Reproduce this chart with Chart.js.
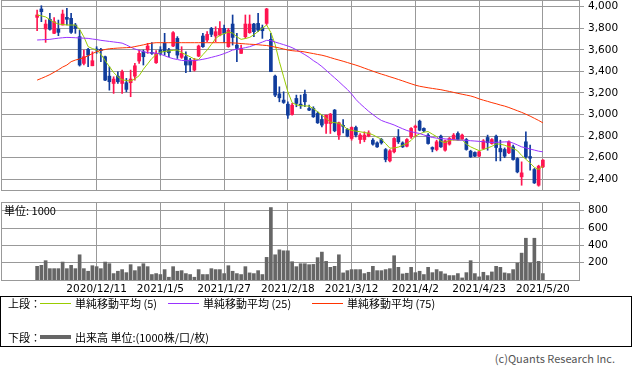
<!DOCTYPE html>
<html><head><meta charset="utf-8">
<script src="https://cdn.jsdelivr.net/npm/chart.js@4.4.1/dist/chart.umd.min.js"></script>
<style>
html,body{margin:0;padding:0;background:#fff;}
body{width:633px;height:370px;position:relative;overflow:hidden;font-family:"Noto Sans CJK JP",sans-serif;color:#000;}
canvas{position:absolute;left:0;}
#c1{top:0;}
#c2{top:196px;}
.t{position:absolute;font-size:11px;line-height:16px;white-space:nowrap;}
.box{position:absolute;left:0;top:296px;width:632px;height:51px;border:1px solid #000;box-sizing:border-box;}
.ln{position:absolute;height:1px;}
</style></head>
<body>
<canvas id="c1" width="633" height="192"></canvas>
<canvas id="c2" width="633" height="100"></canvas>
<div class="t" style="left:4px;top:202px;">単位: 1000</div>
<div class="box"></div>
<div class="t" style="left:8px;top:295px;">上段：</div>
<div class="ln" style="left:40px;top:303px;width:31px;background:#99cc00;"></div>
<div class="t" style="left:75px;top:295px;">単純移動平均 (5)</div>
<div class="ln" style="left:168px;top:303px;width:31px;background:#9933ff;"></div>
<div class="t" style="left:203px;top:295px;">単純移動平均 (25)</div>
<div class="ln" style="left:312px;top:303px;width:31px;background:#ff3300;"></div>
<div class="t" style="left:347px;top:295px;">単純移動平均 (75)</div>
<div class="t" style="left:8px;top:329px;">下段：</div>
<div class="ln" style="left:40px;top:335px;width:31px;height:4px;background:#666;"></div>
<div class="t" style="left:75px;top:329px;">出来高 単位:(1000株/口/枚)</div>
<div class="t" style="right:18px;top:350px;color:#555;">(c)Quants Research Inc.</div>
<script>
const dates = ['2020/11/20','2020/11/24','2020/11/25','2020/11/26','2020/11/27','2020/11/30','2020/12/1','2020/12/2','2020/12/3','2020/12/4',
'2020/12/7','2020/12/8','2020/12/9','2020/12/10','2020/12/11','2020/12/14','2020/12/15','2020/12/16','2020/12/17','2020/12/18',
'2020/12/21','2020/12/22','2020/12/23','2020/12/24','2020/12/25','2020/12/28','2020/12/29','2020/12/30','2021/1/4','2021/1/5',
'2021/1/6','2021/1/7','2021/1/8','2021/1/12','2021/1/13','2021/1/14','2021/1/15','2021/1/18','2021/1/19','2021/1/20',
'2021/1/21','2021/1/22','2021/1/25','2021/1/26','2021/1/27','2021/1/28','2021/1/29','2021/2/1','2021/2/2','2021/2/3',
'2021/2/4','2021/2/5','2021/2/8','2021/2/9','2021/2/10','2021/2/12','2021/2/15','2021/2/16','2021/2/17','2021/2/18',
'2021/2/19','2021/2/22','2021/2/24','2021/2/25','2021/2/26','2021/3/1','2021/3/2','2021/3/3','2021/3/4','2021/3/5',
'2021/3/8','2021/3/9','2021/3/10','2021/3/11','2021/3/12','2021/3/15','2021/3/16','2021/3/17','2021/3/18','2021/3/19',
'2021/3/22','2021/3/23','2021/3/24','2021/3/25','2021/3/26','2021/3/29','2021/3/30','2021/3/31','2021/4/1','2021/4/2',
'2021/4/5','2021/4/6','2021/4/7','2021/4/8','2021/4/9','2021/4/12','2021/4/13','2021/4/14','2021/4/15','2021/4/16',
'2021/4/19','2021/4/20','2021/4/21','2021/4/22','2021/4/23','2021/4/26','2021/4/27','2021/4/28','2021/4/30','2021/5/6',
'2021/5/7','2021/5/10','2021/5/11','2021/5/12','2021/5/13','2021/5/14','2021/5/17','2021/5/18','2021/5/19','2021/5/20'];

const tickDates = ['2020/12/11','2021/1/5','2021/1/27','2021/2/18','2021/3/12','2021/4/2','2021/4/23','2021/5/20'];
const priceTicks = [2400,2600,2800,3000,3200,3400,3600,3800,4000];
const volumeTicks = [200,400,600,800];

const open = [3901,3979,3793,3883,3753,3793,3830,3901,3892,3830,
3722,3474,3604,3452,3604,3604,3536,3356,3288,3356,
3288,3295,3295,3356,3496,3582,3598,3573,3480,3598,
3660,3598,3635,3706,3530,3536,3505,3412,3542,3728,
3691,3799,3728,3737,3799,3629,3839,3644,3567,3722,
3759,3839,3845,3805,3845,3697,3356,3192,3134,3096,
3000,3149,3096,3189,3056,3056,3010,2954,2917,2917,
3041,2809,2900,2861,2778,2880,2768,2768,2799,2762,
2737,2768,2675,2570,2654,2793,2737,2706,2793,2880,
2938,2871,2809,2694,2675,2799,2669,2725,2768,2824,
2772,2768,2660,2648,2614,2685,2787,2731,2799,2685,
2676,2645,2700,2592,2422,2747,2610,2490,2344,2515];
const high = [3969,4009,3876,3938,3900,3876,3969,3985,3938,3845,
3783,3598,3613,3582,3629,3613,3542,3443,3350,3397,
3412,3335,3412,3474,3598,3598,3660,3666,3592,3629,
3753,3613,3768,3722,3629,3582,3520,3520,3644,3753,
3768,3808,3814,3861,3830,3799,3923,3753,3644,3923,
3923,3845,3938,3830,3985,3753,3366,3257,3211,3118,
3103,3180,3180,3226,3087,3072,3025,2994,2994,3010,
3047,2929,2954,2871,2886,2892,2824,2840,2849,2778,
2747,2778,2685,2675,2787,2861,2747,2778,2880,2902,
2948,2877,2824,2700,2762,2809,2762,2787,2824,2840,
2818,2778,2669,2654,2660,2768,2809,2778,2809,2762,
2690,2756,2716,2600,2561,2840,2716,2500,2530,2583];
const low = [3777,3861,3669,3783,3750,3731,3830,3830,3753,3753,
3449,3459,3443,3452,3567,3489,3313,3226,3196,3288,
3196,3211,3165,3319,3474,3459,3567,3558,3474,3551,
3551,3536,3629,3520,3520,3387,3397,3403,3536,3623,
3675,3722,3675,3728,3666,3623,3644,3489,3567,3706,
3753,3722,3768,3706,3830,3397,3165,3118,3103,2963,
2994,3072,3056,3072,3035,2973,2917,2886,2824,2824,
2840,2768,2830,2793,2762,2793,2731,2747,2793,2716,
2694,2725,2561,2561,2645,2731,2694,2700,2778,2793,
2849,2840,2725,2654,2663,2694,2660,2716,2762,2762,
2768,2669,2601,2608,2608,2676,2669,2725,2570,2570,
2600,2638,2577,2459,2344,2592,2484,2360,2335,2508];
const close = [3923,3954,3839,3790,3861,3762,3932,3883,3762,3799,
3459,3536,3551,3499,3598,3592,3319,3304,3329,3304,
3397,3233,3329,3452,3567,3536,3635,3567,3567,3567,
3582,3573,3759,3551,3567,3459,3459,3505,3635,3629,
3743,3743,3768,3799,3753,3783,3715,3613,3613,3839,
3839,3768,3783,3777,3979,3397,3180,3155,3112,2994,
3087,3103,3081,3118,3041,2979,2923,2902,2994,3004,
2849,2923,2890,2799,2880,2809,2809,2809,2830,2725,
2700,2737,2583,2663,2778,2747,2700,2768,2871,2892,
2855,2849,2731,2679,2747,2700,2756,2778,2809,2768,
2809,2676,2608,2614,2654,2756,2738,2768,2694,2654,
2614,2747,2583,2468,2459,2608,2595,2366,2521,2577];
const volume = [158,169,223,131,131,131,207,131,169,131,
291,131,101,165,154,131,207,188,74,101,
120,85,177,108,154,188,154,63,74,63,
120,32,154,101,108,74,63,32,120,63,
63,131,120,120,74,165,101,74,63,154,
82,74,108,63,261,836,291,348,337,337,
211,154,188,188,177,180,258,322,215,146,
158,291,82,108,120,120,120,74,89,158,
108,108,120,131,280,146,70,78,146,85,
101,63,146,85,120,97,70,51,51,74,
24,85,223,74,36,89,51,93,158,146,
82,74,120,196,310,482,196,482,215,74];
const ma5 = [3923,3915,3905,3880,3855,3839,3835,3830,3830,3830,
3790,3720,3629,3612,3598,3560,3500,3445,3390,3350,
3322,3315,3310,3330,3360,3420,3470,3520,3555,3578,
3585,3590,3595,3598,3575,3555,3535,3515,3510,3555,
3598,3650,3705,3735,3750,3765,3755,3720,3697,3705,
3715,3740,3770,3800,3830,3760,3650,3490,3350,3210,
3110,3090,3082,3080,3078,3055,3025,2995,2965,2930,
2925,2918,2895,2865,2853,2846,2840,2833,2826,2812,
2790,2772,2730,2688,2690,2698,2714,2731,2760,2800,
2820,2836,2842,2818,2795,2750,2740,2760,2765,2760,
2765,2725,2700,2682,2665,2675,2690,2705,2728,2725,
2715,2700,2685,2665,2620,2585,2550,2510,2490,2521];
const ma25 = [3691,3693,3695,3697,3703,3708,3712,3715,3714,3712,
3710,3708,3706,3700,3695,3688,3683,3678,3673,3668,
3662,3645,3625,3608,3595,3583,3573,3572,3570,3560,
3545,3530,3518,3510,3502,3499,3499,3499,3505,3512,
3520,3530,3540,3551,3565,3580,3598,3605,3612,3620,
3629,3643,3657,3672,3688,3685,3672,3660,3648,3635,
3620,3600,3578,3555,3530,3500,3475,3445,3410,3375,
3340,3305,3268,3232,3190,3140,3100,3065,3030,3000,
2970,2945,2930,2917,2903,2885,2868,2852,2840,2832,
2824,2810,2798,2787,2781,2778,2774,2770,2767,2763,
2762,2760,2757,2754,2751,2748,2744,2741,2742,2744,
2746,2747,2735,2718,2700,2690,2680,2670,2660,2654];
const ma75 = [3319,3335,3352,3370,3392,3415,3440,3459,3490,3505,
3515,3527,3545,3565,3583,3595,3603,3610,3613,3616,
3618,3620,3622,3630,3638,3646,3655,3662,3666,3666,
3666,3666,3666,3666,3666,3666,3666,3666,3666,3666,
3666,3666,3666,3666,3666,3666,3664,3662,3658,3655,
3652,3650,3647,3643,3640,3633,3625,3617,3608,3598,
3592,3588,3586,3580,3572,3565,3557,3550,3540,3528,
3516,3505,3494,3482,3470,3458,3445,3430,3416,3402,
3388,3375,3363,3350,3338,3325,3312,3298,3285,3272,
3262,3255,3248,3242,3236,3230,3222,3214,3205,3196,
3188,3180,3172,3160,3145,3133,3122,3110,3100,3088,
3078,3065,3050,3035,3020,3003,2985,2965,2945,2923];

const UP = '#ff1450', DOWN = '#103c9c', GRID = '#999999';
const idx = dates.map((d, i) => i);
const tickIdx = tickDates.map(d => dates.indexOf(d));
const candleColor = idx.map(i => close[i] >= open[i] ? UP : DOWN);
const xMin = -8.5, xMax = dates.length - 1 + 8.5;
const tickFont = {family: 'DejaVu Sans', size: 10.5};

const frame = {
  id: 'frame',
  afterDatasetsDraw(c) {
    const a = c.chartArea, ctx = c.ctx;
    ctx.save();
    ctx.strokeStyle = GRID; ctx.lineWidth = 1;
    ctx.strokeRect(Math.round(a.left) + 0.5, Math.round(a.top) + 0.5,
      Math.round(a.right) - Math.round(a.left), Math.round(a.bottom) - Math.round(a.top));
    ctx.restore();
  }
};

function noPad(s) { s.paddingTop = 0; s.paddingBottom = 0; s.paddingLeft = 0; s.paddingRight = 0; }

function xAxis(showLabels, h) {
  return {
    type: 'linear', min: xMin, max: xMax, offset: false,
    afterBuildTicks: s => { s.ticks = tickIdx.map(v => ({value: v})); },
    afterFit: s => { s.height = h; noPad(s); },
    grid: {color: GRID, drawTicks: false, offset: false},
    border: {display: false},
    ticks: {display: showLabels, autoSkip: false, maxRotation: 0, minRotation: 0, padding: 3,
      color: '#000', font: tickFont, callback: v => dates[v]}
  };
}
function yAxis(min, max, ticks) {
  return {
    type: 'linear', position: 'right', min: min, max: max,
    afterBuildTicks: s => { s.ticks = ticks.map(v => ({value: v})); },
    afterFit: s => { s.width = 54; noPad(s); },
    grid: {color: GRID, drawTicks: true, tickLength: 5},
    border: {display: false},
    ticks: {padding: 4, color: '#000', font: tickFont, callback: v => v.toLocaleString('en-US')}
  };
}

new Chart(document.getElementById('c1'), {
  type: 'bar',
  data: {
    datasets: [
      {type: 'line', data: idx.map(i => ({x: i, y: ma75[i]})), borderColor: '#ff3300', borderWidth: 1, pointRadius: 0, tension: 0, order: 0},
      {type: 'line', data: idx.map(i => ({x: i, y: ma25[i]})), borderColor: '#9933ff', borderWidth: 1, pointRadius: 0, tension: 0, order: 0},
      {type: 'line', data: idx.map(i => ({x: i, y: ma5[i]})), borderColor: '#99cc00', borderWidth: 1, pointRadius: 0, tension: 0, order: 0},
      {data: idx.map(i => ({x: i, y: [low[i], high[i]]})), backgroundColor: candleColor, barThickness: 1, grouped: false, order: 3},
      {data: idx.map(i => ({x: i, y: [open[i], close[i]]})), backgroundColor: candleColor, barThickness: 3, minBarLength: 1, grouped: false, order: 2}
    ]
  },
  options: {
    responsive: false, animation: false, events: [],
    layout: {padding: {left: 1, right: 0, top: 0, bottom: 2}},
    plugins: {legend: {display: false}, tooltip: {enabled: false}},
    scales: {x: xAxis(false, 0), y: yAxis(2300, 4062, priceTicks)}
  },
  plugins: [frame]
});

new Chart(document.getElementById('c2'), {
  type: 'bar',
  data: {
    datasets: [
      {data: idx.map(i => ({x: i, y: volume[i]})), backgroundColor: '#666666', barThickness: 3, grouped: false}
    ]
  },
  options: {
    responsive: false, animation: false, events: [],
    layout: {padding: {left: 1, right: 0, top: 6, bottom: 0}},
    plugins: {legend: {display: false}, tooltip: {enabled: false}},
    scales: {x: xAxis(true, 16), y: yAxis(0, 900, volumeTicks)}
  },
  plugins: [frame]
});
</script>
</body></html>
